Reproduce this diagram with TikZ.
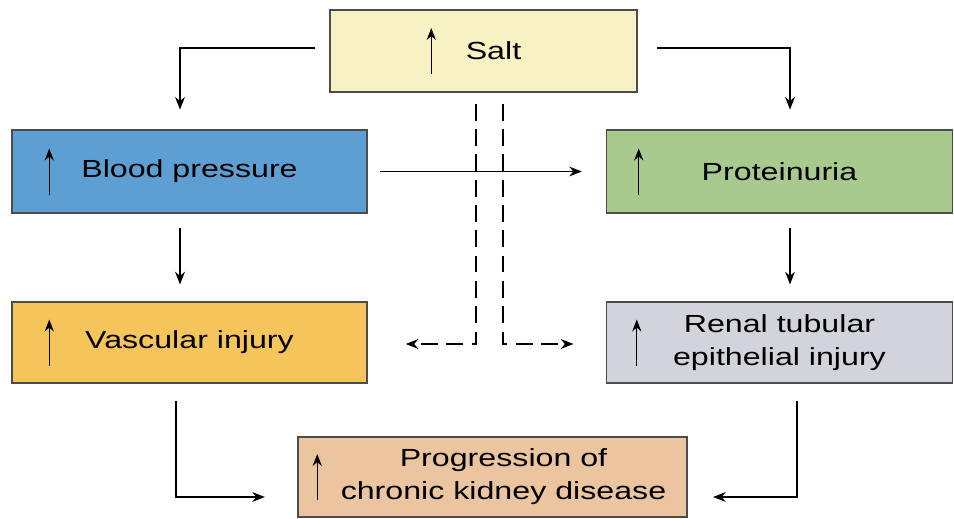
\documentclass[tikz,border=0pt]{standalone}
\usepackage{fontspec}
\setmainfont{Liberation Sans}[FakeStretch=1.3]
\usepackage{tikz}
\usetikzlibrary{arrows.meta,calc,positioning}
\definecolor{SaltBG}{HTML}{F8F1C3}
\definecolor{PressureBG}{HTML}{5E9FD3}
\definecolor{ProteinBG}{HTML}{A9CA8E}
\definecolor{VascularBG}{HTML}{F5C55C}
\definecolor{TubularBG}{HTML}{D3D4DB}
\definecolor{ProgressBG}{HTML}{EBC59F}

\begin{document}
\begin{tikzpicture}[
  x=0.025cm,y=-0.025cm,
  box/.style={
    draw=black!70,line width=1pt,inner sep=0pt,
    font=\fontsize{17.6}{23.5}\selectfont,align=center
  },
  conn/.style={draw,line width=0.9pt,-{Stealth[length=9pt,width=7pt]}},
  dashconn/.style={conn,dash pattern=on 12pt off 6pt},
  rise/.style={line width=1pt,-{Stealth[length=8.5pt,width=6.5pt]}}
]
  \useasboundingbox (0,0) rectangle (954,519);

  % boxes
  \node[box,fill=SaltBG,minimum width=7.675cm,minimum height=2.05cm]
    (salt) at (483.5,51) {\hspace*{0.5cm}Salt};
  \node[box,fill=PressureBG,minimum width=8.875cm,minimum height=2.075cm]
    (bp) at (189.5,171.5) {Blood pressure};
  \node[box,fill=ProteinBG,minimum width=8.65cm,minimum height=2.075cm]
    (prot) at (779.5,171.5) {Proteinuria};
  \node[box,fill=VascularBG,minimum width=8.875cm,minimum height=2.025cm]
    (vasc) at (189.5,342.5) {Vascular injury};
  \node[box,fill=TubularBG,minimum width=8.65cm,minimum height=2.025cm]
    (renal) at (779.5,342.5) {Renal tubular\\epithelial injury};
  \node[box,fill=ProgressBG,minimum width=9.725cm,minimum height=2cm]
    (prog) at (492.5,477) {\hspace*{0.55cm}Progression of\\\hspace*{0.55cm}chronic kidney disease};

  % small arrows inside the boxes
  \foreach \n/\dx in {salt/102,bp/38,prot/33,vasc/38,renal/31,prog/20}
    \draw[rise] ($(\n.west)+(\dx,23)$) -- ++(0,-46);

  % connectors
  \draw[conn,shorten <=10pt,shorten >=14pt] ($(salt.west)+(0,-3)$) -| ($(bp.north)+(-9.5,0)$);
  \draw[conn,shorten <=14pt,shorten >=14pt] ($(salt.east)+(0,-3)$) -| ($(prot.north)+(10.5,0)$);
  \draw[conn,shorten <=9pt,shorten >=17pt] (bp.east) -- (prot.west);
  \draw[conn,shorten <=10pt,shorten >=12pt] ($(bp.south)+(-9.5,0)$) -- ($(vasc.north)+(-9.5,0)$);
  \draw[conn,shorten <=10pt,shorten >=12pt] ($(prot.south)+(10.5,0)$) -- ($(renal.north)+(10.5,0)$);
  \draw[conn,shorten <=12pt,shorten >=23pt] ($(vasc.south)+(-13.5,0)$) |- ($(prog.west)+(0,20)$);
  \draw[conn,shorten <=12pt,shorten >=18pt] ($(renal.south)+(17.5,0)$) |- ($(prog.east)+(0,20)$);

  % dashed lines from salt
  \coordinate (dl) at ($(salt.south)+(-7.5,11)$);
  \coordinate (dr) at ($(salt.south)+(19.5,11)$);
  \draw[dashconn,shorten >=27pt] (dl) |- (vasc.east |- 0,344);
  \draw[dashconn,shorten >=23pt] (dr) |- (renal.west |- 0,344);
\end{tikzpicture}
\end{document}
